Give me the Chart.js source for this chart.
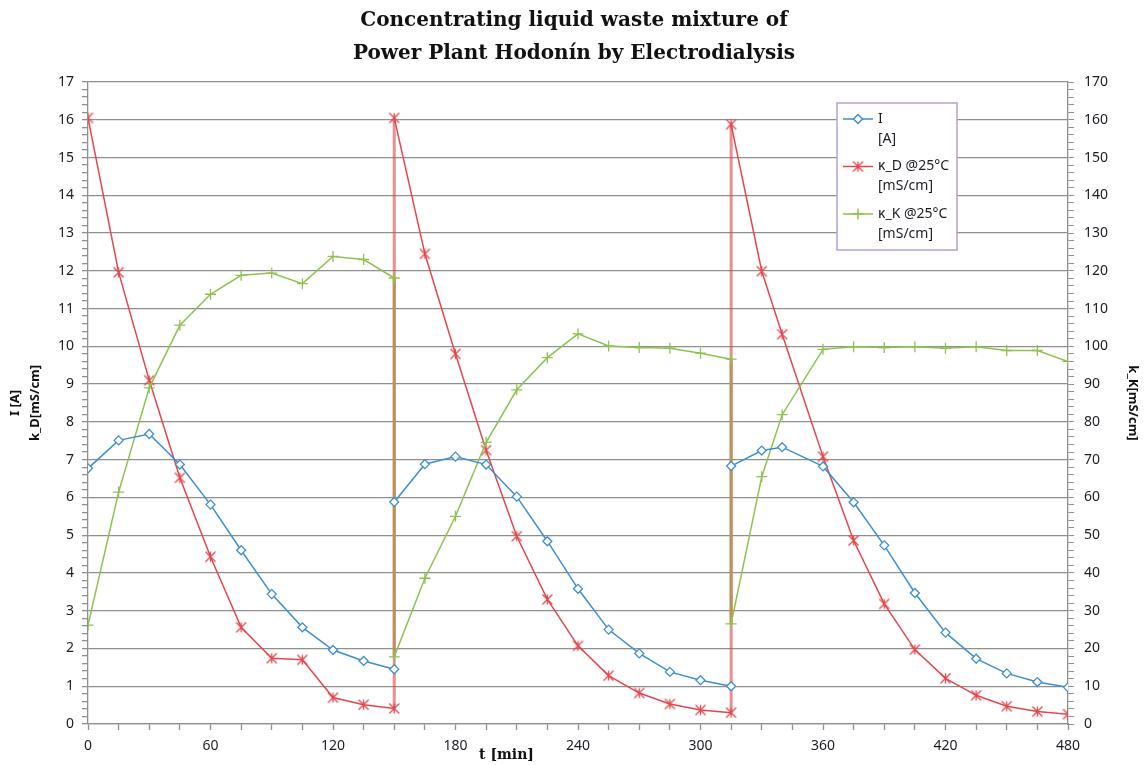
<!DOCTYPE html>
<html>
<head>
<meta charset="utf-8">
<script src="https://cdn.jsdelivr.net/npm/chart.js@4.4.1/dist/chart.umd.min.js"></script>
<style>
  html, body { margin: 0; padding: 0; background: #fff; }
  #wrap { width: 1148px; height: 765px; }
</style>
</head>
<body>
<div id="wrap"><canvas id="chart"></canvas></div>
<script>
// time of each sample [min]; the electrolyte is refilled at 150 and 315 min, so those times appear twice
const timeMin = [0, 15, 30, 45, 60, 75, 90, 105, 120, 135, 150,
  150, 165, 180, 195, 210, 225, 240, 255, 270, 285, 300, 315,
  315, 330, 340, 360, 375, 390, 405, 420, 435, 450, 465, 480];

// I [A]
const currentA = [6.77, 7.51, 7.68, 6.87, 5.81, 4.60, 3.44, 2.56, 1.96, 1.67, 1.45,
  5.88, 6.88, 7.08, 6.87, 6.02, 4.84, 3.58, 2.50, 1.87, 1.38, 1.16, 1.00,
  6.83, 7.24, 7.33, 6.82, 5.87, 4.73, 3.47, 2.42, 1.73, 1.34, 1.11, 0.97];

// κ_D @25°C [mS/cm] (left axis)
const kappaD = [16.05, 11.96, 9.10, 6.52, 4.43, 2.56, 1.74, 1.70, 0.70, 0.51, 0.41,
  16.05, 12.45, 9.80, 7.25, 4.97, 3.30, 2.07, 1.28, 0.82, 0.53, 0.37, 0.30,
  15.88, 11.99, 10.32, 7.08, 4.86, 3.18, 1.97, 1.21, 0.76, 0.47, 0.33, 0.26];

// κ_K @25°C [mS/cm] (right axis)
const kappaK = [26.2, 61.4, 89.0, 105.6, 113.8, 118.8, 119.4, 116.6, 123.8, 123.0, 118.1,
  17.8, 38.6, 55.0, 74.6, 88.5, 97.0, 103.3, 100.1, 99.7, 99.5, 98.2, 96.6,
  26.5, 65.5, 81.9, 99.2, 99.9, 99.7, 99.9, 99.5, 99.9, 98.9, 98.9, 96.0];

const titleLines = ['Concentrating liquid waste mixture of', 'Power Plant Hodonín by Electrodialysis'];
const legendLines = [['I', '[A]'], ['κ_D @25°C', '[mS/cm]'], ['κ_K @25°C', '[mS/cm]']];
const xTitle = 't [min]';
const leftTitle = ['I [A]', 'k_D[mS/cm]'];
const rightTitle = 'k_K[mS/cm]';

const GRID = '#8f8f8f';
const TICK_TXT = '#1c1c24';
const BLUE = '#3f8ecf';
const RED = '#e2474c';
const GREEN = '#8ec150';

const toPoints = (ys) => timeMin.map((t, i) => ({ x: t, y: ys[i] }));
const isWhole = (v, step) => Math.abs(v / step - Math.round(v / step)) < 1e-6;
const vertical = (ctx) => ctx.p0.parsed.x === ctx.p1.parsed.x;

// Excel-like star marker: an X with a vertical stroke
function starMarker(color, r) {
    const c = document.createElement('canvas');
    const s = 2 * r + 3;
    c.width = s;
    c.height = s;
    const g = c.getContext('2d');
    const m = s / 2;
    g.strokeStyle = color;
    g.lineWidth = 1.3;
    g.beginPath();
    g.moveTo(m - r, m - r); g.lineTo(m + r, m + r);
    g.moveTo(m + r, m - r); g.lineTo(m - r, m + r);
    g.moveTo(m, m - r); g.lineTo(m, m + r);
    g.stroke();
    return c;
}

const legendBox = {
    id: 'legendBox',
    afterDraw(chart, args, opts) {
        const { ctx, chartArea } = chart;
        const left = chartArea.right - opts.offsetRight;
        const top = chartArea.top + opts.offsetTop;
        ctx.save();
        ctx.fillStyle = '#fff';
        ctx.fillRect(left, top, opts.width, opts.height);
        ctx.strokeStyle = opts.borderColor;
        ctx.lineWidth = 1.5;
        ctx.strokeRect(left, top, opts.width, opts.height);
        chart.data.datasets.forEach((ds, i) => {
            const y = top + opts.firstRow + i * opts.rowHeight;
            ctx.strokeStyle = ds.borderColor;
            ctx.lineWidth = ds.borderWidth;
            ctx.beginPath();
            ctx.moveTo(left + 6, y);
            ctx.lineTo(left + 36, y);
            ctx.stroke();
            ctx.fillStyle = ds.pointBackgroundColor || 'rgba(0,0,0,0)';
            Chart.helpers.drawPoint(ctx, {
                pointStyle: ds.pointStyle,
                radius: ds.pointRadius,
                borderWidth: ds.pointBorderWidth,
                rotation: 0,
            }, left + 21, y);
            ctx.fillStyle = TICK_TXT;
            ctx.font = '14px "Noto Sans"';
            ctx.textBaseline = 'middle';
            ctx.textAlign = 'left';
            legendLines[i].forEach((line, j) => {
                ctx.fillText(line, left + 41, y + j * opts.lineGap);
            });
        });
        ctx.restore();
    },
};

const xAxisTitle = {
    id: 'xAxisTitle',
    afterDraw(chart, args, opts) {
        const { ctx } = chart;
        const x = chart.scales.x.getPixelForValue(opts.atValue);
        ctx.save();
        ctx.fillStyle = '#111';
        ctx.font = 'bold 14px "DejaVu Serif"';
        ctx.textAlign = 'center';
        ctx.textBaseline = 'middle';
        ctx.fillText(xTitle, x, chart.chartArea.bottom + opts.below);
        ctx.restore();
    },
};

const commonLine = {
    borderWidth: 1.5,
    fill: false,
    tension: 0,
    pointBorderWidth: 1.3,
};

new Chart(document.getElementById('chart'), {
    type: 'line',
    data: {
        datasets: [
            {
                ...commonLine,
                label: 'I [A]',
                data: toPoints(currentA),
                yAxisID: 'y',
                borderColor: BLUE,
                pointStyle: 'rectRot',
                pointRadius: 4.5,
                pointBorderColor: BLUE,
                pointBackgroundColor: '#fff',
                order: 0,
                segment: { borderColor: (c) => (vertical(c) ? 'rgba(0,0,0,0)' : undefined) },
            },
            {
                ...commonLine,
                label: 'κ_D @25°C [mS/cm]',
                data: toPoints(kappaD),
                yAxisID: 'y',
                borderColor: RED,
                pointStyle: starMarker(RED, 5),
                pointRadius: 5,
                pointBorderColor: RED,
                order: 2,
                segment: {
                    borderColor: (c) => (vertical(c) ? 'rgba(226,71,76,0.62)' : undefined),
                    borderWidth: (c) => (vertical(c) ? 3 : undefined),
                },
            },
            {
                ...commonLine,
                label: 'κ_K @25°C [mS/cm]',
                data: toPoints(kappaK),
                yAxisID: 'y1',
                borderColor: GREEN,
                pointStyle: 'cross',
                pointRadius: 5.5,
                pointBorderColor: GREEN,
                order: 1,
                segment: {
                    borderColor: (c) => (vertical(c) ? '#b9955c' : undefined),
                    borderWidth: (c) => (vertical(c) ? 3 : undefined),
                },
            },
        ],
    },
    options: {
        responsive: true,
        maintainAspectRatio: false,
        animation: false,
        events: [],
        layout: { padding: 0 },
        plugins: {
            legend: { display: false },
            tooltip: { enabled: false },
            title: {
                display: true,
                text: titleLines,
                color: '#111',
                font: { family: '"DejaVu Serif"', size: 20, weight: 'bold', lineHeight: 1.65 },
                padding: { top: 4, bottom: 12 },
            },
            legendBox: {
                offsetRight: 231, offsetTop: 21, width: 120, height: 147,
                firstRow: 16, rowHeight: 47.5, lineGap: 20, borderColor: '#b6a2cf',
            },
            xAxisTitle: { atValue: 205, below: 31 },
        },
        scales: {
            x: {
                type: 'linear',
                min: 0,
                max: 480,
                afterFit: (s) => { s.height = 41; },
                border: { color: GRID, width: 1.3 },
                grid: { drawOnChartArea: false, color: GRID, tickLength: 6, tickWidth: 1.3 },
                ticks: {
                    stepSize: 15,
                    autoSkip: false,
                    maxRotation: 0,
                    padding: 8,
                    color: TICK_TXT,
                    font: { family: '"Noto Sans"', size: 14 },
                    callback: (v) => (isWhole(v, 60) ? String(v) : ''),
                },
            },
            y: {
                position: 'left',
                min: 0,
                max: 17,
                afterFit: (s) => { s.width = 88; },
                border: { color: GRID, width: 1.3 },
                grid: {
                    color: (c) => (c.tick && isWhole(c.tick.value, 1) ? GRID : 'rgba(0,0,0,0)'),
                    tickColor: GRID,
                    lineWidth: 1.3,
                    tickLength: 6,
                },
                ticks: {
                    stepSize: 0.2,
                    autoSkip: false,
                    padding: 8,
                    color: TICK_TXT,
                    font: { family: '"Noto Sans"', size: 14 },
                    callback: (v) => (isWhole(v, 1) ? String(Math.round(v)) : ''),
                },
                title: {
                    display: true,
                    text: leftTitle,
                    color: '#111',
                    font: { family: '"Noto Sans"', size: 13, weight: 'bold', lineHeight: 1.5 },
                    padding: { top: 6, bottom: 0 },
                },
            },
            y1: {
                position: 'right',
                min: 0,
                max: 170,
                afterFit: (s) => { s.width = 80; },
                border: { color: GRID, width: 1.3 },
                grid: { drawOnChartArea: false, color: GRID, tickLength: 6 },
                ticks: {
                    stepSize: 2,
                    autoSkip: false,
                    padding: 10,
                    color: TICK_TXT,
                    font: { family: '"Noto Sans"', size: 14 },
                    callback: (v) => (isWhole(v, 10) ? String(Math.round(v)) : ''),
                },
                title: {
                    display: true,
                    text: rightTitle,
                    color: '#111',
                    font: { family: '"Noto Sans"', size: 13, weight: 'bold', lineHeight: 1.5 },
                    padding: { top: 6, bottom: 0 },
                },
            },
        },
    },
    plugins: [legendBox, xAxisTitle],
});
</script>
</body>
</html>
